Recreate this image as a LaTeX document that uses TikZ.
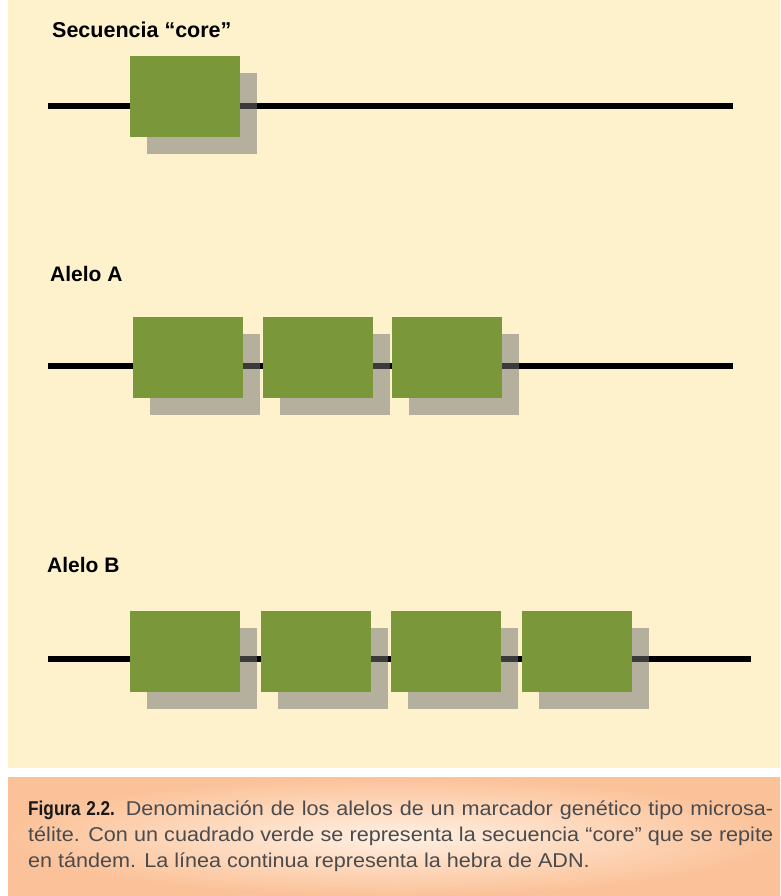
\documentclass[tikz,border=0pt]{standalone}
\usepackage{fontspec}
\setmainfont{Liberation Sans}
\newfontfamily\capfont[FakeStretch=1.08]{Liberation Sans}
\newfontfamily\condfont[FakeStretch=0.86]{Liberation Sans}
\usetikzlibrary{shadows,backgrounds}
\definecolor{cream}{RGB}{254,242,204}
\definecolor{boxgreen}{RGB}{122,152,58}
\definecolor{shadowgray}{RGB}{115,115,115}
\definecolor{peach}{RGB}{251,194,153}
\definecolor{peachlight}{RGB}{255,240,226}
\definecolor{captext}{RGB}{75,75,78}
\begin{document}
\begin{tikzpicture}[x=1pt,y=-1pt,
  core/.style={fill=boxgreen, draw=none, minimum width=110pt, minimum height=81pt,
    inner sep=0pt, anchor=north west,
    drop shadow={shadow xshift=17pt, shadow yshift=-17pt, fill=shadowgray, opacity=0.52}},
  strand/.style={line width=6pt, black},
  lbl/.style={anchor=base west, inner sep=0pt, font=\fontsize{21}{25}\selectfont\bfseries},
  capline/.style={anchor=base west, inner sep=0pt, font=\capfont\fontsize{20}{26}\selectfont, text=captext}]
\begin{scope}[on background layer]
  \fill[white] (0,0) rectangle (780,896);
  \useasboundingbox (0,0) rectangle (780,896);
  \fill[cream] (8,0) rectangle (780,768);
  \shade[inner color=peachlight, outer color=peach] (8,777) rectangle (780,896);
  % strands
  \coordinate (t0) at (48,106);  \coordinate (t1) at (733,106);
  \coordinate (a0) at (48,366);  \coordinate (a1) at (733,366);
  \coordinate (b0) at (48,659);  \coordinate (b1) at (751,659);
  \draw[strand] (t0) -- (t1);
  \draw[strand] (a0) -- (a1);
  \draw[strand] (b0) -- (b1);
\end{scope}
% labels
\node[lbl, font=\fontsize{21.5}{25}\selectfont\bfseries] (ltop) at (52,38) {Secuencia “core”};
\node[lbl] (lA) at (50,281) {Alelo A};
\node[lbl] (lB) at (47,572) {Alelo B};
% core boxes
\node[core] (c0) at (130,56) {};
\node[core] (cA1) at (133,317) {};
\node[core] (cA2) at (263,317) {};
\node[core] (cA3) at (392,317) {};
\node[core] (cB1) at (130,611) {};
\node[core] (cB2) at (261,611) {};
\node[core] (cB3) at (391,611) {};
\node[core] (cB4) at (522,611) {};
% caption
\node[capline] (cap1) at (28,815) {\hbox to 745pt{{\condfont\bfseries\color{black!90}Figura 2.2.} Denominación de los alelos de un marcador genético tipo microsa-}};
\node[capline] (cap2) at (28,841) {\hbox to 745pt{télite. Con un cuadrado verde se representa la secuencia “core” que se repite}};
\node[capline] (cap3) at (28,867) {en tándem. La línea continua representa la hebra de ADN.};
\end{tikzpicture}
\end{document}
